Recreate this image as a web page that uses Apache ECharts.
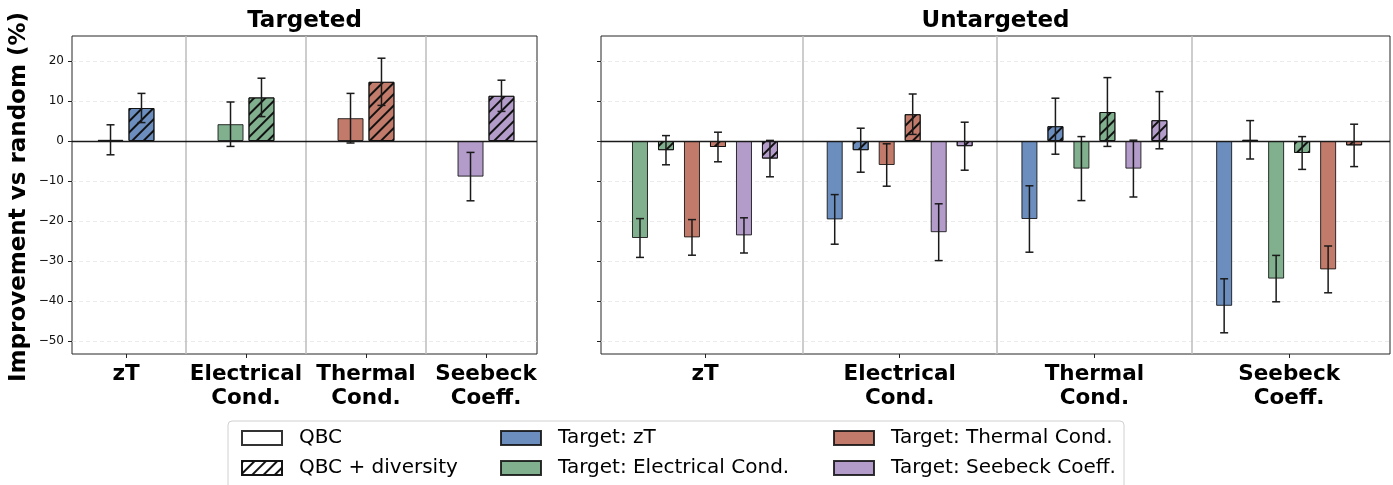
<!DOCTYPE html>
<html><head><meta charset="utf-8">
<script src="https://cdn.jsdelivr.net/npm/echarts@6/dist/echarts.min.js"></script>
<style>html,body{margin:0;padding:0;background:#fff}#c{width:1393px;height:485px}</style>
</head><body><div id="c"></div>
<script>
const groupLabels = ['zT', 'Electrical\nCond.', 'Thermal\nCond.', 'Seebeck\nCoeff.'];
const targetNames = ['Target: zT', 'Target: Electrical Cond.', 'Target: Thermal Cond.', 'Target: Seebeck Coeff.'];
const targetColors = ['#6b8ebf', '#80b08e', '#c27b6a', '#b39cca'];
const yTicks = [-50, -40, -30, -20, -10, 0, 10, 20];
const xTicks = [0, 1, 2, 3];

// Targeted panel (one value per target property)
const targetedQBC = [0.3, 4.2, 5.7, -8.9];
const targetedQBCErr = [3.75, 5.55, 6.2, 6.05];
const targetedDiv = [8.25, 10.9, 14.8, 11.3];
const targetedDivErr = [3.65, 4.8, 5.9, 3.9];

// Untargeted panel: rows = target, columns = evaluated property (null = same property)
const untargetedQBC = [
  [null, -19.6, -19.5, -41.2],
  [-24.25, null, -6.9, -34.4],
  [-24.1, -6.0, null, -32.1],
  [-23.6, -22.8, -6.9, null]
];
const untargetedQBCErr = [
  [null, 6.2, 8.3, 6.75],
  [4.85, null, 8.0, 5.8],
  [4.45, 5.3, null, 5.85],
  [4.4, 7.1, 7.1, null]
];
const untargetedDiv = [
  [null, -2.3, 3.7, 0.3],
  [-2.3, null, 7.25, -3.0],
  [-1.5, 6.7, null, -1.1],
  [-4.4, -1.3, 5.2, null]
];
const untargetedDivErr = [
  [null, 5.5, 7.0, 4.8],
  [3.65, null, 8.6, 4.1],
  [3.7, 5.05, null, 5.3],
  [4.55, 6.0, 7.15, null]
];

const FONT = 'DejaVu Sans';
const EDGE = 'rgba(15,15,15,0.85)';
const HATCH = { symbol: 'rect', symbolSize: 1, dashArrayX: [1, 0], dashArrayY: [1.3, 5.5], rotation: -Math.PI / 4, color: '#111' };
const LOFF = 0.129, ROFF = 0.1335;

const leftBars = [], leftErr = [], rightBars = [], rightErr = [];
for (let i = 0; i < 4; i++) {
  leftBars.push({ value: [i - LOFF, targetedQBC[i]], itemStyle: { color: targetColors[i] } });
  leftBars.push({ value: [i + LOFF, targetedDiv[i]], itemStyle: { color: targetColors[i], decal: HATCH } });
  leftErr.push([i - LOFF, targetedQBC[i], targetedQBCErr[i]]);
  leftErr.push([i + LOFF, targetedDiv[i], targetedDivErr[i]]);
}
for (let g = 0; g < 4; g++) {
  let k = 0;
  for (let t = 0; t < 4; t++) {
    if (untargetedQBC[t][g] === null) continue;
    const x1 = g + (2 * k - 2.5) * ROFF, x2 = g + (2 * k + 1 - 2.5) * ROFF;
    rightBars.push({ value: [x1, untargetedQBC[t][g]], itemStyle: { color: targetColors[t] } });
    rightBars.push({ value: [x2, untargetedDiv[t][g]], itemStyle: { color: targetColors[t], decal: HATCH } });
    rightErr.push([x1, untargetedQBC[t][g], untargetedQBCErr[t][g]]);
    rightErr.push([x2, untargetedDiv[t][g], untargetedDivErr[t][g]]);
    k++;
  }
}

function errRender(params, api) {
  const x = api.value(0), y = api.value(1), e = api.value(2);
  const a = api.coord([x, y + e]), b = api.coord([x, y - e]);
  const hw = 4, st = { stroke: '#1a1a1a', lineWidth: 1.5 };
  return { type: 'group', children: [
    { type: 'line', shape: { x1: a[0], y1: a[1], x2: b[0], y2: b[1] }, style: st },
    { type: 'line', shape: { x1: a[0] - hw, y1: a[1], x2: a[0] + hw, y2: a[1] }, style: st },
    { type: 'line', shape: { x1: b[0] - hw, y1: b[1], x2: b[0] + hw, y2: b[1] }, style: st }
  ] };
}

const minusFmt = v => (v < 0 ? '\u2212' + Math.abs(v) : String(v));

function xAxisDef(idx, min, max) {
  return {
    type: 'value', gridIndex: idx, min: min, max: max, position: 'bottom',
    axisLine: { show: false, onZero: false }, splitLine: { show: false },
    axisTick: { show: true, customValues: xTicks, length: 4, lineStyle: { color: '#222', width: 1 } },
    axisLabel: { customValues: xTicks, formatter: v => groupLabels[Math.round(v)],
      fontSize: 21.5, fontWeight: 'bold', lineHeight: 24, color: '#000', margin: 8, fontFamily: FONT }
  };
}
function yAxisDef(idx, showLabel) {
  return {
    type: 'value', gridIndex: idx, min: -53.25, max: 26.25, position: 'left',
    axisLine: { show: false, onZero: false }, splitLine: { show: false },
    axisTick: { show: true, customValues: yTicks, length: 4, lineStyle: { color: '#222', width: 1 } },
    axisLabel: { show: showLabel, customValues: yTicks, formatter: minusFmt, fontSize: 12, color: '#111', margin: 8, fontFamily: FONT }
  };
}

function backLines(idx) {
  return {
    type: 'line', xAxisIndex: idx, yAxisIndex: idx, data: [], silent: true,
    markLine: {
      silent: true, symbol: 'none', z: 1, label: { show: false }, animation: false,
      data: yTicks.map(v => ({ yAxis: v, lineStyle: { color: '#e6e6e6', width: 0.8, type: [4, 3] } }))
        .concat([0.5, 1.5, 2.5].map(v => ({ xAxis: v, lineStyle: { color: '#bdbdbd', width: 1.5, type: 'solid' } })))
    }
  };
}
const zeroLine = { silent: true, symbol: 'none', label: { show: false }, animation: false,
  data: [{ yAxis: 0, lineStyle: { color: '#1a1a1a', width: 1.3, type: 'solid' } }] };

function legendSeries(name, color, decal) {
  const it = { color: color, borderColor: EDGE, borderWidth: 1 };
  if (decal) it.decal = decal;
  return { type: 'bar', name: name, xAxisIndex: 0, yAxisIndex: 0, data: [], barWidth: 26, barGap: '-100%', itemStyle: it };
}

const legendBase = {
  orient: 'vertical', itemWidth: 40, itemHeight: 14, itemGap: 10, selectedMode: false,
  icon: 'rect', z: 5, padding: 0, height: 60,
  textStyle: { fontSize: 20, lineHeight: 20, color: '#000', fontFamily: FONT, padding: [0, 0, 0, 12] }
};

const option = {
  animation: false,
  backgroundColor: '#fff',
  textStyle: { fontFamily: FONT },
  grid: [
    { left: 72, top: 36, width: 465, height: 318, show: true, borderColor: '#262626', borderWidth: 1, backgroundColor: 'transparent' },
    { left: 601, top: 36, width: 789, height: 318, show: true, borderColor: '#262626', borderWidth: 1, backgroundColor: 'transparent' }
  ],
  xAxis: [xAxisDef(0, -0.45, 3.425), xAxisDef(1, -0.534, 3.518)],
  yAxis: [yAxisDef(0, true), yAxisDef(1, false)],
  legend: [
    Object.assign({}, legendBase, { left: 241, top: 428, data: ['QBC', 'QBC + diversity'] }),
    Object.assign({}, legendBase, { left: 500, top: 428, data: [targetNames[0], targetNames[1]] }),
    Object.assign({}, legendBase, { left: 833, top: 428, data: [targetNames[2], targetNames[3]] })
  ],
  graphic: [
    { type: 'rect', z: 0, shape: { x: 228, y: 421, width: 896, height: 80, r: 4 }, style: { fill: '#fff', stroke: '#d0d0d0', lineWidth: 1 } },
    { type: 'text', x: 304.5, y: 21, style: { text: 'Targeted', font: 'bold 23px "DejaVu Sans"', fill: '#000', textAlign: 'center', textVerticalAlign: 'middle' } },
    { type: 'text', x: 995.5, y: 21, style: { text: 'Untargeted', font: 'bold 23px "DejaVu Sans"', fill: '#000', textAlign: 'center', textVerticalAlign: 'middle' } },
    { type: 'text', x: 19, y: 197, rotation: Math.PI / 2, style: { text: 'Improvement vs random (%)', font: 'bold 23px "DejaVu Sans"', fill: '#000', textAlign: 'center', textVerticalAlign: 'middle' } }
  ],
  series: [
    backLines(0), backLines(1),
    { type: 'bar', name: 'leftBars', xAxisIndex: 0, yAxisIndex: 0, data: leftBars, barWidth: 26, barGap: '-100%', z: 2,
      itemStyle: { borderColor: EDGE, borderWidth: 1 }, markLine: zeroLine },
    { type: 'bar', name: 'rightBars', xAxisIndex: 1, yAxisIndex: 1, data: rightBars, barWidth: 16, barGap: '-100%', z: 2,
      itemStyle: { borderColor: EDGE, borderWidth: 1 }, markLine: zeroLine },
    { type: 'custom', xAxisIndex: 0, yAxisIndex: 0, data: leftErr, renderItem: errRender, z: 6, silent: true, encode: { x: 0, y: 1 } },
    { type: 'custom', xAxisIndex: 1, yAxisIndex: 1, data: rightErr, renderItem: errRender, z: 6, silent: true, encode: { x: 0, y: 1 } },
    legendSeries('QBC', '#fff'),
    legendSeries('QBC + diversity', '#fff', HATCH),
    legendSeries(targetNames[0], targetColors[0]),
    legendSeries(targetNames[1], targetColors[1]),
    legendSeries(targetNames[2], targetColors[2]),
    legendSeries(targetNames[3], targetColors[3])
  ]
};
const chart = echarts.init(document.getElementById('c'), null, { renderer: 'canvas' });
chart.setOption(option);
</script></body></html>
